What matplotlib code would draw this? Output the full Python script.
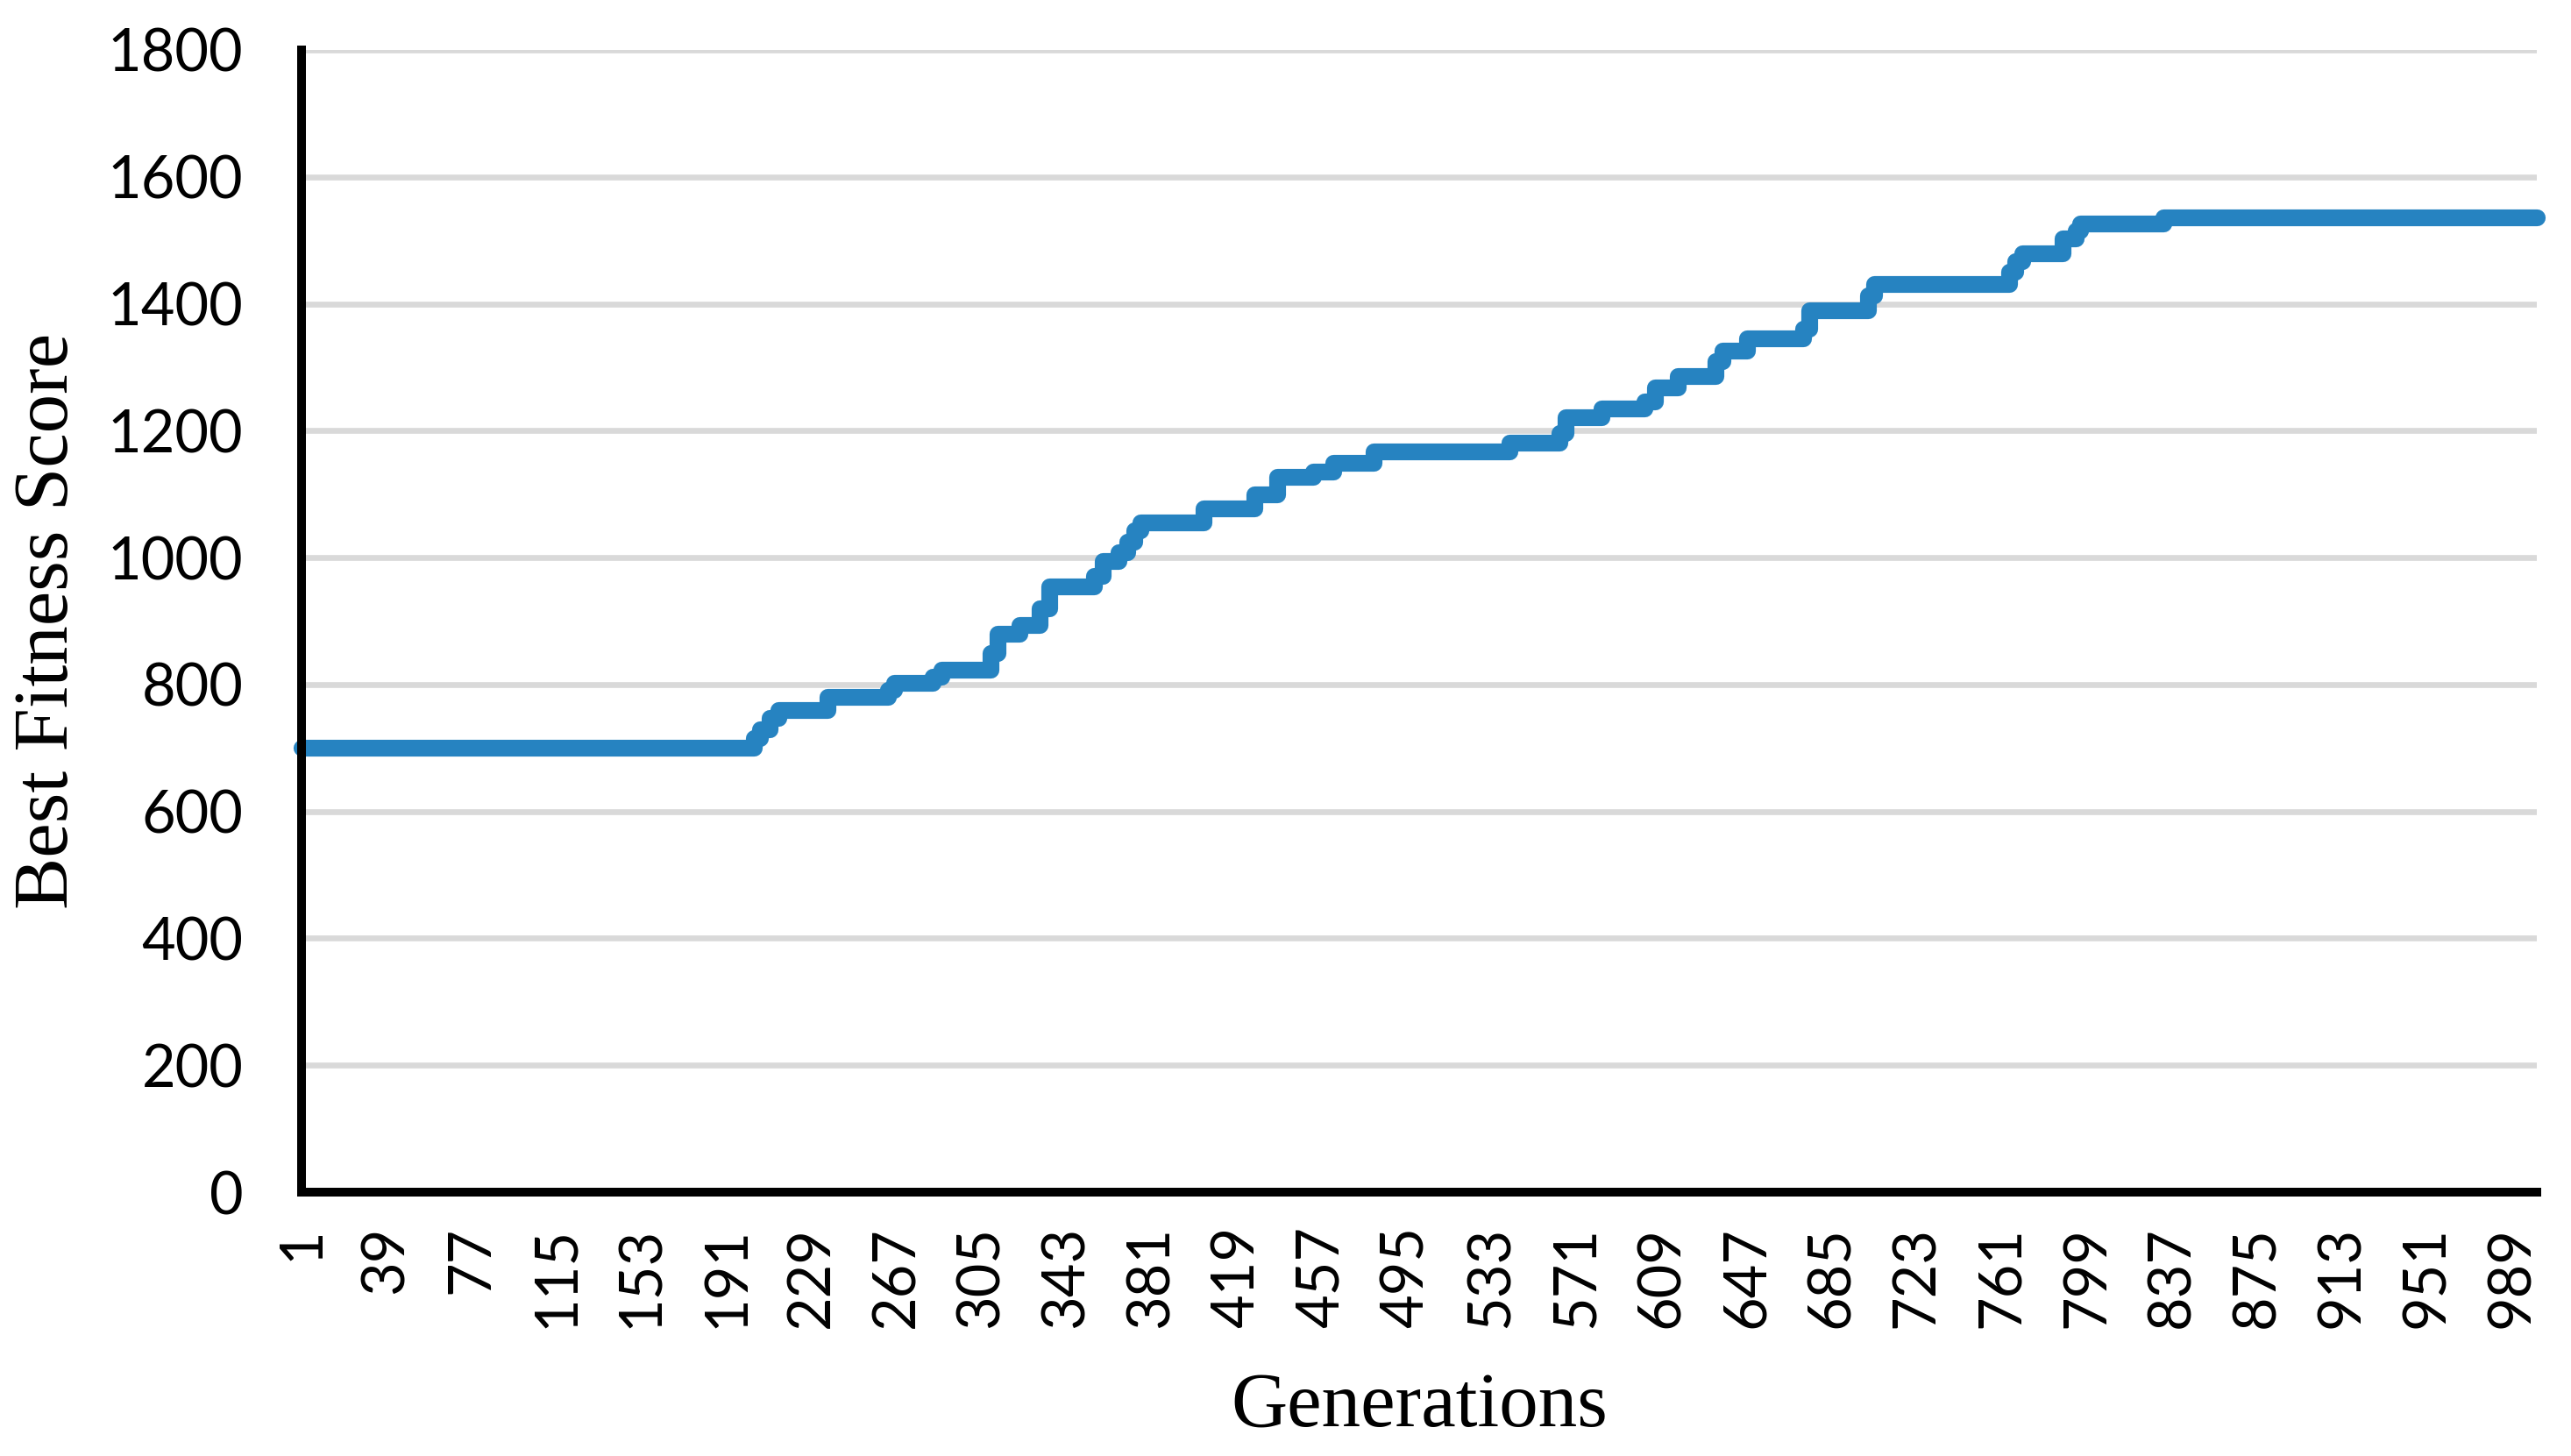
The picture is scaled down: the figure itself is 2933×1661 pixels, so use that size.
import matplotlib
matplotlib.use("Agg")
import matplotlib.pyplot as plt

# generation where each new best score starts, and the score from there on
gen_start = [1, 203, 206, 210, 214, 236, 263, 266, 283, 287, 309, 312, 322, 331,
             335, 355, 359, 366, 370, 373, 376, 404, 427, 437, 453, 462, 480,
             541, 563, 566, 582, 601, 606, 616, 633, 636, 647, 672, 675, 701,
             704, 764, 767, 770, 788, 794, 796, 833, 1000]
best_score = [700, 715, 730, 748, 760, 781, 792, 802, 812, 823, 850, 880, 894, 920,
              954, 971, 994, 1008, 1025, 1043, 1055, 1077, 1100, 1127, 1136, 1150, 1167,
              1181, 1196, 1221, 1235, 1246, 1268, 1286, 1310, 1326, 1346, 1360, 1390, 1413,
              1431, 1450, 1467, 1480, 1503, 1515, 1526, 1536, 1536]

x_ticks = list(range(1, 1000, 38))
y_ticks = [0, 200, 400, 600, 800, 1000, 1200, 1400, 1600, 1800]

fig = plt.figure(figsize=(14.665, 8.305), dpi=200)
ax = fig.add_axes([0.1173, 0.1812, 0.8694, 0.7845])

ax.plot(gen_start, best_score, drawstyle="steps-post", color="#2683C1",
        linewidth=6.9, solid_capstyle="round", solid_joinstyle="round",
        zorder=3, clip_on=False)

ax.set_xlim(1, 1000)
ax.set_ylim(0, 1800)
ax.set_yticks(y_ticks)
ax.set_xticks(x_ticks)
ax.set_xticklabels([str(t) for t in x_ticks], rotation=90)

ax.grid(axis="y", color="#D9D9D9", linewidth=2.4, zorder=0)
ax.set_axisbelow(True)

for side in ["top", "right"]:
    ax.spines[side].set_visible(False)
for side in ["left", "bottom"]:
    ax.spines[side].set_linewidth(3.6)
    ax.spines[side].set_color("black")
    ax.spines[side].set_zorder(4)

ax.tick_params(axis="both", length=0, labelsize=24)
ax.tick_params(axis="y", pad=24)
ax.tick_params(axis="x", pad=14)
for lab in ax.get_xticklabels() + ax.get_yticklabels():
    lab.set_fontfamily("Lato")

ax.set_xlabel("Generations", fontsize=32, family="Liberation Serif", va="center")
ax.set_ylabel("Best Fitness Score", fontsize=32, family="Liberation Serif", va="center")
ax.xaxis.set_label_coords(0.5, -0.188)
ax.yaxis.set_label_coords(-0.113, 0.5)

fig.savefig("out.png", dpi=200)
plt.close()
